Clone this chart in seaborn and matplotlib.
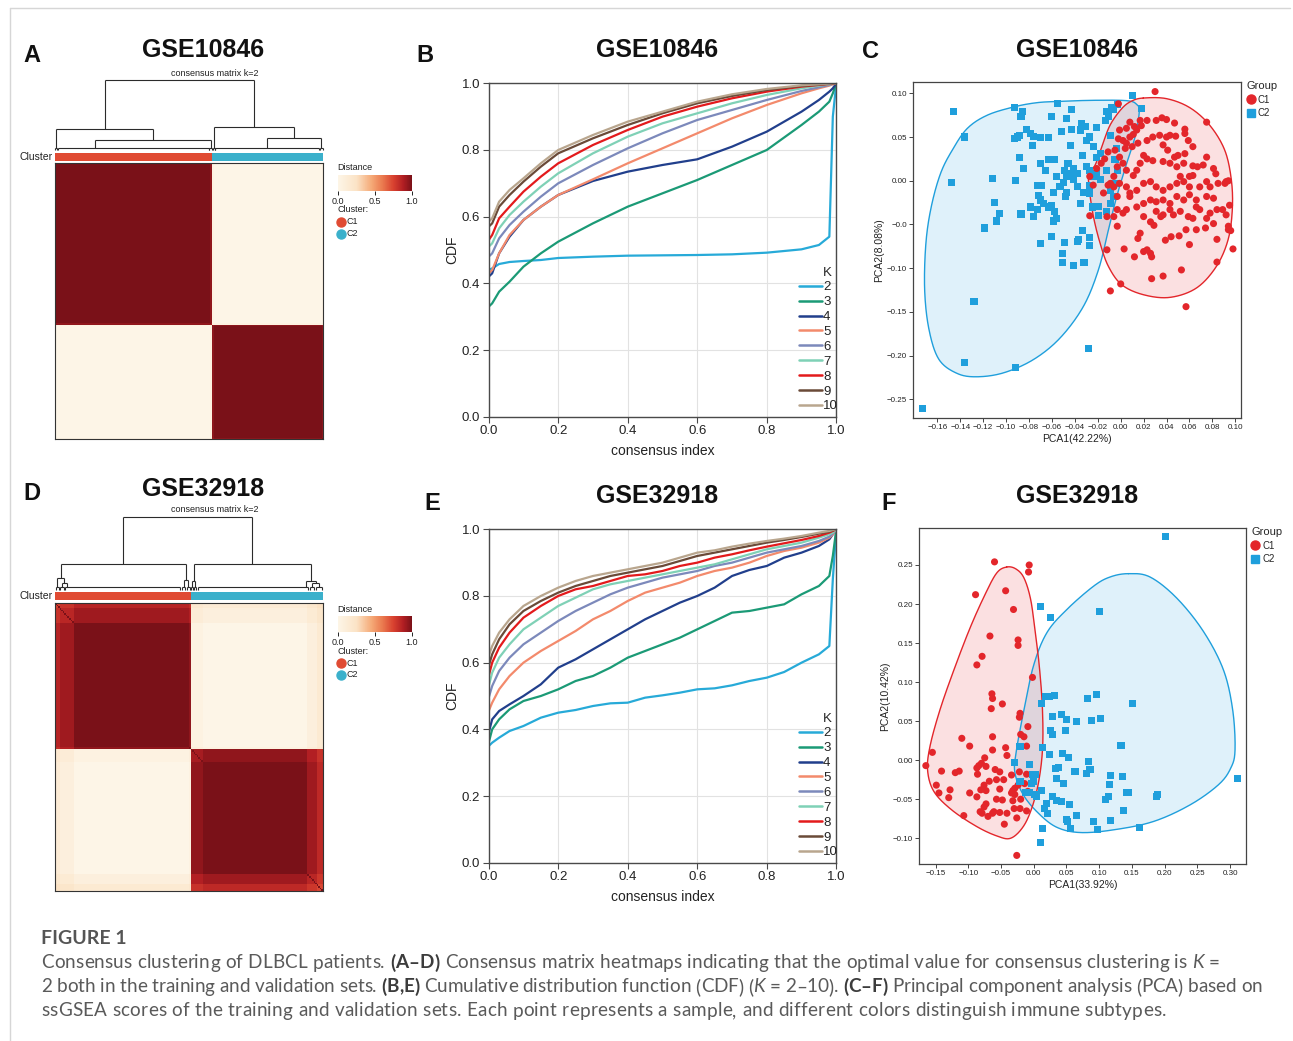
import numpy as np
import pandas as pd
import matplotlib
matplotlib.use("Agg")
import matplotlib.pyplot as plt
import seaborn as sns
from matplotlib.colors import LinearSegmentedColormap, ListedColormap, Normalize
from matplotlib.collections import LineCollection
from matplotlib.lines import Line2D
import matplotlib.colorbar as mcolorbar

# ---------------------------------------------------------------- data
# consensus-matrix: per-sample stability (run-length: count, value)
A_c1_stab = [(240, 1.0), (3, 0.95)]
A_c2_stab = [(2, 0.96), (167, 1.0), (2, 0.96)]
D_c1_stab = [(3, 0.86), (9, 0.92), (74, 1.0), (1, 0.95)]
D_c2_stab = [(8, 0.95), (67, 1.0), (6, 0.92), (4, 0.84)]

# dendrograms: ('node', height, left, right) / ('leaf', n_samples, attach_fraction)
dend_A = ('node', 1.0,
          ('node', 0.30, ('leaf', 4, 0.5),
           ('node', 0.143, ('leaf', 234, 0.247), ('leaf', 5, 0.5))),
          ('node', 0.33, ('leaf', 4, 0.5),
           ('node', 0.17, ('leaf', 162, 0.497), ('leaf', 5, 0.5))))
dend_D = ('node', 1.0,
          ('node', 0.36,
           ('node', 0.16, ('leaf', 3, 0.5),
            ('node', 0.10, ('leaf', 3, 0.5), ('leaf', 75, 0.02))),
           ('node', 0.14, ('leaf', 3, 0.5), ('leaf', 3, 0.5))),
          ('node', 0.36,
           ('node', 0.12, ('leaf', 2, 0.5), ('leaf', 2, 0.5)),
           ('node', 0.13, ('leaf', 72, 0.97),
            ('node', 0.10, ('leaf', 4, 0.5), ('leaf', 5, 0.5)))))

# CDF curves
cdf_x_B = [0, 0.01, 0.03, 0.06, 0.1, 0.15, 0.2, 0.3, 0.4, 0.5, 0.6, 0.7, 0.8, 0.9, 0.95, 0.98, 0.99, 1.0]
B_k2 = [0.44, 0.445, 0.458, 0.464, 0.467, 0.470, 0.476, 0.480, 0.483, 0.484, 0.485, 0.487, 0.492, 0.502, 0.515, 0.54, 0.90, 1.0]
B_k3 = [0.33, 0.34, 0.375, 0.405, 0.45, 0.49, 0.525, 0.58, 0.63, 0.67, 0.71, 0.755, 0.80, 0.875, 0.915, 0.945, 0.97, 1.0]
B_k4 = [0.42, 0.43, 0.49, 0.54, 0.59, 0.63, 0.665, 0.707, 0.735, 0.755, 0.772, 0.81, 0.855, 0.915, 0.95, 0.975, 0.985, 1.0]
B_k5 = [0.43, 0.44, 0.49, 0.545, 0.59, 0.63, 0.665, 0.712, 0.76, 0.805, 0.85, 0.895, 0.935, 0.97, 0.985, 0.993, 0.997, 1.0]
B_k6 = [0.48, 0.49, 0.535, 0.575, 0.615, 0.66, 0.70, 0.755, 0.805, 0.85, 0.89, 0.92, 0.95, 0.977, 0.988, 0.995, 0.998, 1.0]
B_k7 = [0.51, 0.52, 0.565, 0.605, 0.645, 0.69, 0.73, 0.79, 0.84, 0.88, 0.91, 0.94, 0.965, 0.985, 0.993, 0.997, 0.999, 1.0]
B_k8 = [0.53, 0.545, 0.595, 0.63, 0.675, 0.72, 0.76, 0.815, 0.86, 0.90, 0.93, 0.955, 0.975, 0.99, 0.995, 0.998, 0.999, 1.0]
B_k9 = [0.57, 0.58, 0.63, 0.665, 0.705, 0.75, 0.79, 0.835, 0.875, 0.91, 0.94, 0.962, 0.98, 0.992, 0.996, 0.999, 1.0, 1.0]
B_k10 = [0.585, 0.595, 0.645, 0.68, 0.715, 0.76, 0.80, 0.845, 0.885, 0.915, 0.945, 0.967, 0.983, 0.994, 0.997, 0.999, 1.0, 1.0]

cdf_x_E = [0, 0.01, 0.03, 0.06, 0.1, 0.15, 0.2, 0.25, 0.3, 0.35, 0.4, 0.45, 0.5, 0.55, 0.6, 0.65, 0.7,
           0.75, 0.8, 0.85, 0.9, 0.95, 0.98, 0.99, 1.0]
E_k2 = [0.35, 0.36, 0.375, 0.395, 0.41, 0.435, 0.45, 0.458, 0.47, 0.478, 0.48, 0.495, 0.502, 0.51, 0.52, 0.523,
        0.532, 0.545, 0.555, 0.572, 0.60, 0.625, 0.65, 0.85, 1.0]
E_k3 = [0.36, 0.40, 0.43, 0.46, 0.485, 0.50, 0.52, 0.545, 0.56, 0.585, 0.615, 0.635, 0.655, 0.675, 0.70, 0.725,
        0.75, 0.755, 0.765, 0.775, 0.805, 0.83, 0.86, 0.92, 1.0]
E_k4 = [0.39, 0.43, 0.455, 0.475, 0.50, 0.535, 0.585, 0.61, 0.64, 0.67, 0.70, 0.73, 0.755, 0.78, 0.80, 0.825,
        0.86, 0.878, 0.89, 0.915, 0.93, 0.95, 0.97, 0.985, 1.0]
E_k5 = [0.455, 0.48, 0.52, 0.56, 0.60, 0.635, 0.665, 0.695, 0.73, 0.755, 0.785, 0.81, 0.825, 0.84, 0.86, 0.875,
        0.885, 0.90, 0.92, 0.935, 0.945, 0.96, 0.975, 0.985, 1.0]
E_k6 = [0.495, 0.53, 0.575, 0.615, 0.655, 0.69, 0.725, 0.755, 0.78, 0.805, 0.825, 0.84, 0.855, 0.865, 0.875, 0.89,
        0.90, 0.915, 0.93, 0.94, 0.95, 0.965, 0.978, 0.988, 1.0]
E_k7 = [0.53, 0.57, 0.615, 0.655, 0.70, 0.735, 0.77, 0.795, 0.82, 0.835, 0.845, 0.855, 0.865, 0.875, 0.885, 0.895,
        0.91, 0.925, 0.94, 0.95, 0.96, 0.975, 0.985, 0.99, 1.0]
E_k8 = [0.56, 0.60, 0.645, 0.69, 0.735, 0.77, 0.80, 0.82, 0.83, 0.845, 0.86, 0.865, 0.875, 0.89, 0.90, 0.915,
        0.925, 0.937, 0.948, 0.958, 0.968, 0.98, 0.99, 0.995, 1.0]
E_k9 = [0.59, 0.625, 0.67, 0.715, 0.755, 0.785, 0.81, 0.83, 0.845, 0.86, 0.87, 0.88, 0.89, 0.905, 0.92, 0.93,
        0.94, 0.95, 0.96, 0.968, 0.977, 0.987, 0.993, 0.997, 1.0]
E_k10 = [0.62, 0.65, 0.69, 0.73, 0.77, 0.80, 0.825, 0.845, 0.86, 0.87, 0.88, 0.89, 0.90, 0.915, 0.93, 0.937,
         0.948, 0.957, 0.965, 0.972, 0.98, 0.99, 0.995, 0.998, 1.0]

k_values = [2, 3, 4, 5, 6, 7, 8, 9, 10]
k_colors = ['#27aad8', '#1b9a76', '#213f8c', '#f38a6c', '#7c89bb', '#7fd1b6', '#e31a1c', '#6a4a38', '#b9a68e']

# PCA GSE10846
C_c1_x = [0.030, 0.075, 0.057, 0.053, 0.037, 0.027, -0.009, 0.000, 0.012, 0.020,
          0.023, 0.027, 0.026, 0.015, 0.017, 0.029, 0.035, 0.039, 0.044, 0.051,
          0.057, 0.060, 0.066, 0.074, 0.084, 0.084, 0.098, 0.094, 0.096, 0.092,
          0.095, 0.092, 0.091, 0.094, 0.081, 0.083, 0.075, 0.072, 0.067, 0.063,
          0.063, 0.075, 0.063, 0.059, 0.056, 0.047, 0.040, 0.036, 0.031, 0.023,
          0.018, 0.014, 0.011, 0.008, 0.015, 0.023, 0.028, 0.034, 0.040, 0.043,
          0.037, 0.041, 0.047, 0.050, 0.056, 0.055, 0.049, 0.043, 0.037, 0.028,
          0.023, 0.020, 0.017, 0.014, 0.011, 0.005, 0.002, -0.001, -0.003, -0.006,
          -0.009, -0.001, 0.005, 0.008, 0.014, 0.020, 0.026, 0.031, 0.037, 0.043,
          0.049, 0.055, 0.060, 0.069, 0.075, 0.081, 0.084, 0.078, 0.069, 0.066,
          0.060, 0.055, 0.049, 0.043, 0.037, 0.031, 0.026, 0.020, 0.014, 0.008,
          0.005, 0.002, -0.003, -0.006, -0.012, -0.015, -0.011, -0.006, -0.003, -0.024,
          -0.027, -0.021, -0.017, -0.014, -0.011, -0.005, 0.004, 0.010, 0.005, 0.002,
          -0.002, -0.001, 0.005, 0.012, 0.017, 0.008, -0.002, 0.020, 0.026, 0.031,
          0.037, 0.043, 0.046, 0.052, 0.059, 0.063, 0.075, -0.012, -0.003, 0.003,
          -0.027, 0.056, 0.048, 0.089, 0.094, 0.081, 0.052, 0.060, 0.078, 0.085,
          0.066]
C_c1_y = [0.102, 0.067, -0.144, -0.102, -0.109, -0.112, -0.126, -0.118, -0.087, -0.081,
          -0.079, -0.087, -0.083, -0.066, -0.060, -0.051, -0.041, -0.068, -0.064, -0.063,
          -0.056, -0.073, -0.056, -0.054, -0.067, -0.093, -0.078, -0.056, -0.057, -0.039,
          -0.028, -0.001, -0.003, 0.000, 0.014, 0.008, -0.001, 0.018, 0.016, 0.017,
          0.006, 0.027, 0.039, 0.046, 0.059, 0.066, 0.070, 0.072, 0.069, 0.069,
          0.063, 0.058, 0.053, 0.050, 0.043, 0.046, 0.050, 0.052, 0.050, 0.052,
          0.041, 0.035, 0.027, 0.029, 0.031, 0.020, 0.016, 0.020, 0.022, 0.023,
          0.025, 0.029, 0.020, 0.012, 0.006, 0.012, 0.020, 0.027, 0.016, 0.005,
          -0.003, -0.003, -0.007, -0.014, -0.011, -0.003, -0.001, -0.007, -0.011, -0.007,
          -0.003, -0.001, -0.007, -0.007, -0.018, -0.020, -0.033, -0.037, -0.033, -0.022,
          -0.016, -0.022, -0.018, -0.026, -0.022, -0.024, -0.022, -0.026, -0.030, -0.018,
          -0.033, -0.037, -0.033, -0.041, -0.041, -0.014, -0.005, -0.007, -0.018, -0.005,
          0.005, 0.014, 0.020, 0.025, 0.033, 0.035, 0.037, 0.039, 0.043, 0.046,
          0.048, 0.058, 0.060, 0.062, 0.069, 0.067, 0.088, -0.041, -0.047, -0.035,
          -0.039, -0.033, -0.039, -0.035, -0.041, -0.043, -0.043, -0.079, -0.052, -0.078,
          -0.040, 0.054, 0.051, -0.033, -0.052, -0.049, 0.005, 0.005, -0.007, -0.003,
          -0.030]
C_c2_x = [-0.146, -0.136, -0.148, -0.173, -0.136, -0.128, -0.119, -0.112, -0.110, -0.106,
          -0.108, -0.093, -0.086, -0.087, -0.092, -0.092, -0.088, -0.085, -0.087, -0.093,
          -0.090, -0.088, -0.082, -0.079, -0.076, -0.070, -0.063, -0.077, -0.073, -0.069,
          -0.066, -0.070, -0.063, -0.061, -0.058, -0.055, -0.060, -0.052, -0.047, -0.043,
          -0.043, -0.044, -0.046, -0.049, -0.050, -0.047, -0.041, -0.038, -0.035, -0.034,
          -0.033, -0.031, -0.030, -0.027, -0.024, -0.021, -0.018, -0.021, -0.030, -0.027,
          -0.024, -0.021, -0.018, -0.012, -0.009, -0.012, -0.011, -0.013, -0.008, -0.004,
          -0.005, -0.003, -0.005, -0.009, -0.006, -0.009, -0.012, -0.019, -0.019, -0.025,
          -0.027, -0.027, -0.032, -0.035, -0.038, -0.041, -0.043, -0.047, -0.048, -0.053,
          -0.056, -0.059, -0.060, -0.063, -0.067, -0.070, -0.072, -0.073, -0.076, -0.079,
          -0.058, -0.059, -0.056, -0.060, -0.049, -0.051, -0.051, -0.038, -0.037, -0.033,
          -0.027, -0.027, -0.032, -0.041, -0.070, -0.028, 0.010, 0.018, -0.003, -0.006]
C_c2_y = [0.079, 0.050, -0.002, -0.261, -0.208, -0.138, -0.054, 0.003, -0.025, -0.037,
          -0.046, 0.084, 0.079, 0.074, -0.214, 0.000, 0.027, 0.014, -0.038, 0.048,
          0.050, 0.052, 0.059, 0.054, 0.051, 0.049, 0.049, 0.040, -0.005, -0.005,
          0.012, 0.020, 0.024, 0.024, 0.024, 0.088, 0.074, 0.056, 0.071, 0.082,
          0.059, 0.040, 0.020, 0.012, -0.002, 0.005, 0.014, 0.008, 0.058, 0.065,
          0.029, 0.062, 0.046, 0.050, 0.039, 0.061, 0.031, 0.027, 0.016, 0.012,
          0.005, 0.008, 0.001, 0.012, 0.052, 0.079, 0.073, 0.069, 0.084, 0.037,
          0.024, 0.012, -0.003, -0.011, -0.018, -0.026, -0.035, -0.029, -0.040, -0.030,
          -0.014, -0.005, -0.013, -0.026, -0.007, 0.001, 0.008, -0.013, -0.018, -0.007,
          0.005, -0.013, -0.028, -0.030, -0.026, -0.022, -0.017, -0.033, -0.041, -0.030,
          -0.035, -0.046, -0.043, -0.064, -0.071, -0.083, -0.093, -0.069, -0.067, -0.057,
          -0.065, -0.074, -0.093, -0.097, -0.072, -0.192, 0.097, 0.083, 0.087, 0.081]
C_c1_hull_x = [0.0197, 0.040, 0.0603, 0.0777, 0.0908, 0.0966, 0.0974, 0.0937, 0.0835, 0.0661, 0.0429, 0.0197,
               0.0009, -0.0107, -0.018, -0.0238, -0.0273, -0.0278, -0.0223, -0.0165, -0.0093, 0.0009, 0.0096]
C_c1_hull_y = [0.0946, 0.0939, 0.0836, 0.0635, 0.035, 0.0008, -0.0334, -0.0676, -0.098, -0.1227, -0.1334, -0.1303,
               -0.1189, -0.098, -0.0714, -0.041, -0.0106, 0.0084, 0.0179, 0.0388, 0.0635, 0.0825, 0.0912]
C_c2_hull_x = [-0.0528, -0.0238, 0.0052, 0.0139, 0.0162, 0.0125, 0.0052, -0.0035, -0.0107, -0.0194, -0.0325,
               -0.0528, -0.076, -0.102, -0.1253, -0.1427, -0.1586, -0.1673, -0.1711, -0.170, -0.1653, -0.1572,
               -0.147, -0.134, -0.1166, -0.0934, -0.0731]
C_c2_hull_y = [0.0908, 0.092, 0.0916, 0.0874, 0.0787, 0.050, 0.0198, -0.0182, -0.0562, -0.1018, -0.1436,
               -0.1797, -0.2044, -0.2196, -0.2242, -0.2204, -0.2044, -0.1702, -0.1246, -0.0714, -0.0296, 0.0084,
               0.035, 0.0597, 0.0749, 0.0844, 0.0893]

# PCA GSE32918
F_c1_x = [-0.060, -0.007, -0.008, -0.043, -0.089, -0.031, -0.067, -0.024, -0.024, -0.079,
          -0.087, -0.002, -0.064, -0.063, -0.048, -0.065, -0.021, -0.022, -0.009, -0.063,
          -0.110, -0.098, -0.020, -0.063, -0.043, -0.041, -0.155, -0.165, -0.141, -0.120,
          -0.114, -0.087, -0.084, -0.075, -0.080, -0.086, -0.073, -0.059, -0.052, -0.057,
          -0.046, -0.052, -0.068, -0.076, -0.081, -0.073, -0.149, -0.128, -0.145, -0.130,
          -0.098, -0.087, -0.073, -0.076, -0.082, -0.070, -0.061, -0.052, -0.057, -0.048,
          -0.034, -0.032, -0.030, -0.041, -0.032, -0.029, -0.024, -0.014, -0.021, -0.011,
          -0.026, -0.107, -0.079, -0.063, -0.045, -0.026, -0.011, -0.022, -0.034, -0.029,
          -0.020, -0.009, -0.011, -0.015]
F_c1_y = [0.254, 0.250, 0.241, 0.217, 0.212, 0.193, 0.159, 0.154, 0.147, 0.133,
          0.122, 0.106, 0.085, 0.079, 0.072, 0.066, 0.060, 0.055, 0.043, 0.030,
          0.028, 0.018, 0.033, 0.013, 0.016, 0.006, 0.010, -0.007, -0.014, -0.016,
          -0.014, -0.010, -0.007, 0.003, -0.004, -0.018, -0.008, -0.012, -0.015, -0.025,
          -0.025, -0.037, -0.027, -0.032, -0.038, -0.039, -0.032, -0.038, -0.042, -0.048,
          -0.042, -0.047, -0.056, -0.060, -0.066, -0.072, -0.066, -0.067, -0.050, -0.051,
          -0.042, -0.052, -0.062, -0.068, -0.039, -0.036, -0.032, -0.030, -0.062, -0.065,
          -0.074, -0.071, -0.068, -0.068, -0.082, -0.122, -0.018, -0.015, -0.019, -0.044,
          -0.050, -0.040, 0.018, 0.030]
F_c2_x = [0.201, 0.100, 0.010, 0.025, 0.012, 0.018, 0.024, 0.031, 0.082, 0.096,
          0.151, 0.028, 0.043, 0.050, 0.066, 0.088, 0.102, 0.026, 0.029, 0.049,
          0.014, -0.021, 0.024, 0.044, 0.053, 0.083, 0.132, 0.134, 0.033, 0.038,
          0.035, 0.045, 0.063, 0.080, 0.086, 0.117, 0.135, 0.116, 0.142, 0.145,
          0.188, 0.189, 0.109, 0.114, 0.312, -0.030, -0.007, -0.002, 0.003, -0.001,
          -0.006, 0.001, 0.012, 0.004, 0.020, 0.016, 0.021, 0.029, 0.035, 0.043,
          0.054, 0.050, 0.051, 0.066, 0.056, 0.092, 0.097, 0.117, 0.137, 0.161,
          0.014, 0.010, -0.021, -0.013, -0.003]
F_c2_y = [0.286, 0.190, 0.197, 0.183, 0.073, 0.081, 0.081, 0.083, 0.079, 0.084,
          0.072, 0.056, 0.058, 0.052, 0.050, 0.051, 0.053, 0.038, 0.033, 0.038,
          0.016, 0.018, 0.007, 0.008, 0.004, -0.002, 0.019, 0.019, -0.011, -0.009,
          -0.023, -0.030, -0.015, -0.017, -0.012, -0.020, -0.021, -0.031, -0.041, -0.041,
          -0.047, -0.044, -0.050, -0.047, -0.023, -0.003, -0.006, -0.018, -0.018, -0.027,
          -0.041, -0.044, -0.039, -0.047, -0.055, -0.062, -0.068, -0.047, -0.052, -0.053,
          -0.057, -0.076, -0.079, -0.071, -0.087, -0.079, -0.089, -0.077, -0.065, -0.086,
          -0.088, -0.106, -0.027, -0.042, -0.030]
F_c1_hull_x = [-0.0414, -0.0272, -0.0149, -0.0047, 0.0024, 0.0085, 0.0131, 0.0136, 0.0080, -0.0022, -0.0160,
               -0.0353, -0.0567, -0.0873, -0.1255, -0.1526, -0.1623, -0.1587, -0.1434, -0.1220, -0.0975,
               -0.0746, -0.0567]
F_c1_hull_y = [0.2474, 0.2449, 0.2333, 0.2056, 0.1628, 0.1201, 0.0688, 0.0175, -0.0252, -0.0594, -0.0850,
               -0.1000, -0.0970, -0.0850, -0.0637, -0.0402, -0.0132, 0.0175, 0.0645, 0.1158, 0.1692,
               0.2120, 0.2397]
F_c2_hull_x = [0.1447, 0.1778, 0.2185, 0.2593, 0.2899, 0.3041, 0.3077, 0.3011, 0.2822, 0.2389, 0.1828, 0.1216,
               0.0707, 0.0350, 0.0070, -0.0160, -0.0287, -0.0272, -0.0160, -0.0007, 0.0197, 0.0502, 0.0910,
               0.1165]
F_c2_hull_y = [0.2389, 0.2346, 0.2077, 0.1650, 0.1158, 0.0645, 0.0132, -0.0103, -0.0316, -0.0573, -0.0786,
               -0.0893, -0.0927, -0.0859, -0.0679, -0.0444, -0.0167, 0.0090, 0.0603, 0.1201, 0.1628, 0.1927,
               0.2226, 0.2346]

C_xticks = [-0.16, -0.14, -0.12, -0.10, -0.08, -0.06, -0.04, -0.02, 0.00, 0.02, 0.04, 0.06, 0.08, 0.10]
C_xticklabels = ['\u22120.16', '\u22120.14', '\u22120.12', '\u22120.10', '\u22120.08', '\u22120.06', '\u22120.04',
                 '\u22120.02', '0.00', '0.02', '0.04', '0.06', '0.08', '0.10']
C_yticks = [0.10, 0.05, 0.00, -0.05, -0.10, -0.15, -0.20, -0.25]
C_yticklabels = ['0.10', '0.05', '0.00', '\u22120.0', '\u22120.10', '\u22120.15', '\u22120.20', '\u22120.25']
F_xticks = [-0.15, -0.10, -0.05, 0.00, 0.05, 0.10, 0.15, 0.20, 0.25, 0.30]
F_xticklabels = ['\u22120.15', '\u22120.10', '\u22120.05', '0.00', '0.05', '0.10', '0.15', '0.20', '0.25', '0.30']
F_yticks = [0.25, 0.20, 0.15, 0.10, 0.05, 0.00, -0.05, -0.10]
F_yticklabels = ['0.25', '0.20', '0.15', '0.10', '0.05', '0.00', '\u22120.05', '\u22120.10']

caption_title = 'FIGURE 1'
caption_lines = [
    [('Consensus clustering of DLBCL patients. ', 'n'), ('(A\u2013D)', 'b'),
     (' Consensus matrix heatmaps indicating that the optimal value for consensus clustering is ', 'n'),
     ('K', 'i'), (' =', 'n')],
    [('2 both in the training and validation sets. ', 'n'), ('(B,E)', 'b'),
     (' Cumulative distribution function (CDF) (', 'n'), ('K', 'i'), (' = 2\u201310). ', 'n'),
     ('(C\u2013F)', 'b'), (' Principal component analysis (PCA) based on', 'n')],
    [('ssGSEA scores of the training and validation sets. Each point represents a sample, '
      'and different colors distinguish immune subtypes.', 'n')],
]

for a, b in [(C_c1_x, C_c1_y), (C_c2_x, C_c2_y), (F_c1_x, F_c1_y), (F_c2_x, F_c2_y)]:
    assert len(a) == len(b), (len(a), len(b))

# ---------------------------------------------------------------- style
sns.set_theme(style='ticks')
plt.rcParams['font.family'] = ['Liberation Sans', 'DejaVu Sans']
plt.rcParams['axes.linewidth'] = 0.9

W, H = 1293, 1041
fig = plt.figure(figsize=(W / 100, H / 100), dpi=100)
fig.patch.set_facecolor('white')


def ax_px(x0, y0, x1, y1):
    return fig.add_axes([x0 / W, 1 - y1 / H, (x1 - x0) / W, (y1 - y0) / H])


def ftext(x, y, s, **kw):
    return fig.text(x / W, 1 - y / H, s, **kw)


RED = '#e3262b'
BLUE = '#1f9fdc'
CL1 = '#e04b33'
CL2 = '#3bb0cb'

cmap_cons = LinearSegmentedColormap.from_list(
    'cons', [(0.0, '#fdf5e7'), (0.25, '#fbe3c6'), (0.45, '#f5aa78'), (0.6, '#ea7a4f'),
             (0.75, '#d8412f'), (0.88, '#b21f23'), (1.0, '#7a1118')])


def stability(runs):
    return np.concatenate([np.full(n, v) for n, v in runs])


def consensus(s1, s2):
    s = np.concatenate([s1, s2])
    g = np.r_[np.zeros(len(s1)), np.ones(len(s2))]
    same = g[:, None] == g[None, :]
    p = s[:, None] * s[None, :] + (1 - s[:, None]) * (1 - s[None, :])
    M = np.where(same, p, 1 - p)
    np.fill_diagonal(M, 1.0)
    return M, g.astype(int)


def dendro_segments(node, start, h0=0.035):
    if node[0] == 'leaf':
        _, n, f = node
        segs = [((start + 0.5, h0), (start + n - 0.5, h0)),
                ((start + 0.5, 0), (start + 0.5, h0)),
                ((start + n - 0.5, 0), (start + n - 0.5, h0))]
        return start + f * n, h0, start + n, segs
    _, h, L, R = node
    xl, hl, e1, s1 = dendro_segments(L, start)
    xr, hr, e2, s2 = dendro_segments(R, e1)
    segs = s1 + s2 + [((xl, hl), (xl, h)), ((xl, h), (xr, h)), ((xr, hr), (xr, h))]
    return (xl + xr) / 2, h, e2, segs


def consensus_panel(stab1, stab2, tree, y_dend, y_bar, y_hm, y_leg):
    M, g = consensus(stability(stab1), stability(stab2))
    N = len(g)
    axd = ax_px(55, y_dend[0], 323, y_dend[1])
    _, _, _, segs = dendro_segments(tree, 0)
    axd.add_collection(LineCollection(segs, colors='#2b2b2b', linewidths=0.8, clip_on=False))
    axd.set_xlim(0, N)
    axd.set_ylim(0, 1.0)
    axd.axis('off')

    axb = ax_px(55, y_bar[0], 323, y_bar[1])
    sns.heatmap(g[None, :], ax=axb, cmap=ListedColormap([CL1, CL2]), cbar=False,
                xticklabels=False, yticklabels=False, rasterized=True)
    ftext(53, (y_bar[0] + y_bar[1]) / 2, 'Cluster', ha='right', va='center', fontsize=7.5, color='#222')

    axh = ax_px(55, y_hm[0], 323, y_hm[1])
    sns.heatmap(M, ax=axh, cmap=cmap_cons, vmin=0, vmax=1, cbar=False,
                xticklabels=False, yticklabels=False, rasterized=True)
    for sp in axh.spines.values():
        sp.set_visible(True)
        sp.set_color('#333333')
        sp.set_linewidth(0.8)

    yl = y_leg
    ftext(337, yl, 'Distance', ha='left', va='center', fontsize=6.5, color='#222')
    cax = ax_px(338, yl + 7, 412, yl + 23)
    cb = mcolorbar.ColorbarBase(cax, cmap=cmap_cons, norm=Normalize(0, 1), orientation='horizontal',
                                ticks=[0, 0.5, 1.0])
    cb.outline.set_visible(False)
    cax.set_xticklabels(['0.0', '0.5', '1.0'])
    cax.tick_params(axis='x', labelsize=6.5, length=3, width=0.7, pad=1, colors='#222')
    ftext(337, yl + 42, 'Cluster:', ha='left', va='center', fontsize=6.5, color='#222')
    for i, (lab, col) in enumerate([('C1', CL1), ('C2', CL2)]):
        yy = yl + 54 + 11.5 * i
        fig.add_artist(Line2D([341 / W], [1 - yy / H], marker='o', markersize=6.5, color=col,
                              transform=fig.transFigure, linestyle=''))
        ftext(346.5, yy, lab, ha='left', va='center', fontsize=6.5, color='#222')


consensus_panel(A_c1_stab, A_c2_stab, dend_A, (80, 150), (153, 161), (163, 439), 168)
consensus_panel(D_c1_stab, D_c2_stab, dend_D, (517, 590), (592, 600), (603, 891), 609)
ftext(215, 73, 'consensus matrix k=2', ha='center', va='center', fontsize=6.5, color='#222')
ftext(215, 510, 'consensus matrix k=2', ha='center', va='center', fontsize=6.5, color='#222')


# ---------------------------------------------------------------- CDF panels
def cdf_panel(xs, curves, y0, y1):
    ax = ax_px(488.7, y0, 836.3, y1)
    rows = []
    for k, vals in zip(k_values, curves):
        assert len(vals) == len(xs)
        for x, v in zip(xs, vals):
            rows.append((x, v, str(k)))
    df = pd.DataFrame(rows, columns=['consensus index', 'CDF', 'K'])
    pal = {str(k): c for k, c in zip(k_values, k_colors)}
    sns.lineplot(data=df, x='consensus index', y='CDF', hue='K', palette=pal, estimator=None,
                 sort=True, linewidth=1.6, legend=False, ax=ax)
    ax.set_xlim(0, 1)
    ax.set_ylim(0, 1)
    ticks = [0, 0.2, 0.4, 0.6, 0.8, 1.0]
    ax.set_xticks(ticks)
    ax.set_yticks(ticks)
    ax.set_xticklabels([f'{t:.1f}' for t in ticks])
    ax.set_yticklabels([f'{t:.1f}' for t in ticks])
    ax.grid(True, color='#e2e2e2', linewidth=0.8)
    ax.set_axisbelow(True)
    for sp in ax.spines.values():
        sp.set_visible(True)
        sp.set_color('#4a4a4a')
        sp.set_linewidth(1.0)
    ax.tick_params(direction='out', length=4, width=0.8, color='#4a4a4a', labelsize=9.5,
                   labelcolor='#222', pad=2)
    ax.set_xlabel('consensus index', fontsize=10, color='#222', labelpad=5)
    ax.set_ylabel('CDF', fontsize=10, color='#222', labelpad=2)
    handles = [Line2D([], [], color=c, lw=1.8) for c in k_colors]
    leg = ax.legend(handles, [str(k) for k in k_values], title='K', loc='lower right',
                    bbox_to_anchor=(1.012, 0.005), frameon=False,
                    fontsize=9.5, title_fontsize=9.5, handlelength=1.8, handletextpad=0.05,
                    labelspacing=0.2, borderaxespad=0.0, borderpad=0.2, alignment='right')
    leg.get_title().set_position((-6, 0))
    for t in leg.get_texts():
        t.set_color('#222')
    return ax


cdf_panel(cdf_x_B, [B_k2, B_k3, B_k4, B_k5, B_k6, B_k7, B_k8, B_k9, B_k10], 83.3, 416.7)
cdf_panel(cdf_x_E, [E_k2, E_k3, E_k4, E_k5, E_k6, E_k7, E_k8, E_k9, E_k10], 529.3, 862.7)


# ---------------------------------------------------------------- PCA panels
def closed_spline(xs, ys, n=24):
    P = np.column_stack([xs, ys])
    m = len(P)
    t = np.linspace(0, 1, n, endpoint=False)[:, None]
    out = []
    for i in range(m):
        p0, p1, p2, p3 = P[(i - 1) % m], P[i], P[(i + 1) % m], P[(i + 2) % m]
        out.append(0.5 * (2 * p1 + (-p0 + p2) * t + (2 * p0 - 5 * p1 + 4 * p2 - p3) * t ** 2
                          + (-p0 + 3 * p1 - 3 * p2 + p3) * t ** 3))
    out = np.vstack(out)
    return np.r_[out[:, 0], out[:1, 0]], np.r_[out[:, 1], out[:1, 1]]


def pca_panel(box, c1x, c1y, c2x, c2y, h1, h2, xlim, ylim, xt, xtl, yt, ytl, xlab, ylab, order):
    ax = ax_px(*box)
    for (hx, hy), col in [(h2, BLUE), (h1, RED)]:
        sx, sy = closed_spline(hx, hy)
        ax.fill(sx, sy, facecolor=col, alpha=0.14, edgecolor='none', zorder=1)
    for (hx, hy), col in [(h2, BLUE), (h1, RED)]:
        sx, sy = closed_spline(hx, hy)
        ax.plot(sx, sy, color=col, lw=1.0, zorder=2)
    d1 = pd.DataFrame({'PC1': c1x, 'PC2': c1y, 'Group': 'C1'})
    d2 = pd.DataFrame({'PC1': c2x, 'PC2': c2y, 'Group': 'C2'})
    df = pd.concat([d1, d2] if order == 'c1first' else [d2, d1], ignore_index=True)
    sns.scatterplot(data=df, x='PC1', y='PC2', hue='Group', style='Group',
                    palette={'C1': RED, 'C2': BLUE}, markers={'C1': 'o', 'C2': 's'},
                    s=26, linewidth=0, legend=False, ax=ax, zorder=3)
    ax.set_xlim(*xlim)
    ax.set_ylim(*ylim)
    ax.set_xticks(xt)
    ax.set_xticklabels(xtl)
    ax.set_yticks(yt)
    ax.set_yticklabels(ytl)
    for sp in ax.spines.values():
        sp.set_visible(True)
        sp.set_color('#444444')
        sp.set_linewidth(0.9)
    ax.tick_params(direction='out', length=3, width=0.7, color='#444', labelsize=5.8,
                   labelcolor='#222', pad=1.5)
    ax.set_xlabel(xlab, fontsize=7.5, color='#222', labelpad=2)
    ax.set_ylabel(ylab, fontsize=7.5, color='#222', labelpad=2)
    handles = [Line2D([], [], marker='o', ls='', color=RED, markersize=6.5),
               Line2D([], [], marker='s', ls='', color=BLUE, markersize=6)]
    ax.legend(handles, ['C1', 'C2'], title='Group', loc='upper left', bbox_to_anchor=(1.0, 1.02),
              frameon=False, fontsize=7, title_fontsize=8, handlelength=0.8, handletextpad=0.3,
              labelspacing=0.35, borderaxespad=0.2, alignment='left')
    return ax


pca_panel((913.3, 82.3, 1241, 417.7), C_c1_x, C_c1_y, C_c2_x, C_c2_y,
          (C_c1_hull_x, C_c1_hull_y), (C_c2_hull_x, C_c2_hull_y),
          (-0.181, 0.105), (-0.271, 0.1126), C_xticks, C_xticklabels, C_yticks, C_yticklabels,
          'PCA1(42.22%)', 'PCA2(8.08%)', 'c2first')
pca_panel((919.3, 528.3, 1245.7, 864), F_c1_x, F_c1_y, F_c2_x, F_c2_y,
          (F_c1_hull_x, F_c1_hull_y), (F_c2_hull_x, F_c2_hull_y),
          (-0.175, 0.324), (-0.133, 0.297), F_xticks, F_xticklabels, F_yticks, F_yticklabels,
          'PCA1(33.92%)', 'PCA2(10.42%)', 'c1first')

# ---------------------------------------------------------------- titles & letters
for x, y, s in [(203, 50, 'GSE10846'), (657, 50, 'GSE10846'), (1077, 50, 'GSE10846'),
                (203, 489, 'GSE32918'), (657, 496, 'GSE32918'), (1077, 496, 'GSE32918')]:
    ftext(x, y, s, ha='center', va='center', fontsize=18, fontweight='bold', color='#111')
for x, y, s in [(32, 55, 'A'), (425, 55, 'B'), (871, 52, 'C'), (32, 494, 'D'), (432, 503, 'E'), (889, 503, 'F')]:
    ftext(x, y, s, ha='center', va='center', fontsize=17, fontweight='bold', color='#111')

fig.add_artist(Line2D([10 / W, 1290 / W], [1 - 8 / H, 1 - 8 / H], color='#d6d6d6', lw=1, transform=fig.transFigure))
fig.add_artist(Line2D([10 / W, 10 / W], [1 - 8 / H, 0], color='#d6d6d6', lw=1, transform=fig.transFigure))

# ---------------------------------------------------------------- caption (justified lines)
CAP_FAM = ['Lato', 'DejaVu Sans']
CAP_SIZE = 13.6
renderer = fig.canvas.get_renderer()
_wcache = {}


def style_kw(style):
    kw = dict(fontsize=CAP_SIZE, family=CAP_FAM)
    if style == 'b':
        kw.update(fontweight='bold', color='#3c3c3c')
    elif style == 'i':
        kw.update(fontstyle='italic', color='#5a5a5a')
    else:
        kw.update(color='#5a5a5a')
    return kw


def char_width(ch, style):
    key = (ch, style)
    if key not in _wcache:
        kw = style_kw(style)
        if ch == ' ':
            a = fig.text(0, 0, 'x x', **kw)
            b = fig.text(0, 0, 'xx', **kw)
            w = a.get_window_extent(renderer).width - b.get_window_extent(renderer).width
            a.remove()
            b.remove()
        else:
            t = fig.text(0, 0, ch, **kw)
            w = t.get_window_extent(renderer).width
            t.remove()
        _wcache[key] = w
    return _wcache[key]


def draw_line(x0, x1, y, runs):
    chars = [(c, st) for s, st in runs for c in s]
    natural = sum(char_width(c, st) for c, st in chars)
    track = (x1 - x0 - natural) / max(len(chars) - 1, 1)
    x = x0
    for c, st in chars:
        if c != ' ':
            ftext(x, y, c, ha='left', va='center', **style_kw(st))
        x += char_width(c, st) + track


ftext(41, 938, caption_title, ha='left', va='center', fontsize=14, fontweight='bold',
      family=CAP_FAM, color='#555555')
for (x1, y), runs in zip([(1220, 963), (1262, 987), (1166, 1011)], caption_lines):
    draw_line(41, x1, y, runs)

fig.savefig('out.png', dpi=100)
